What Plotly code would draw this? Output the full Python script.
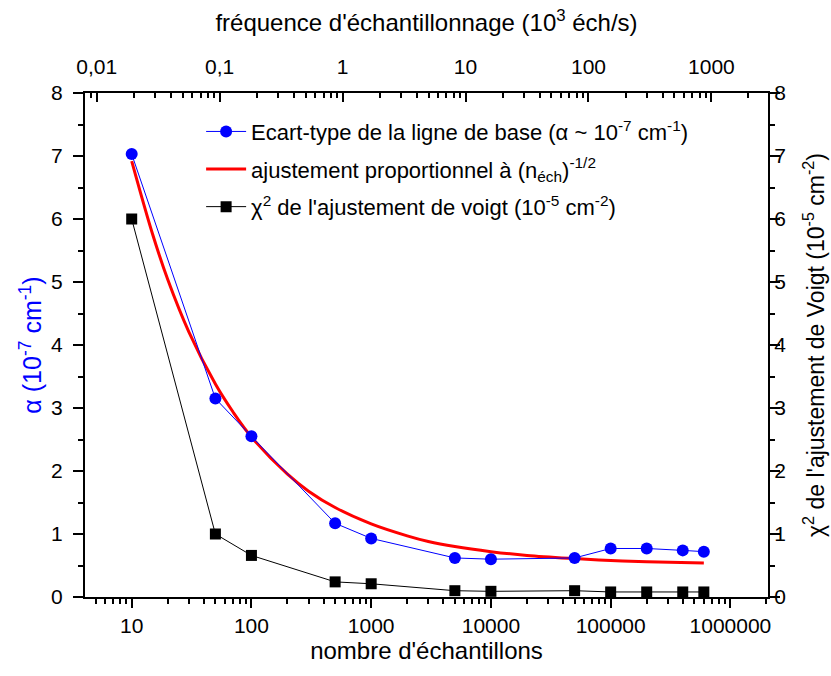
import plotly.graph_objects as go

# --- data ---
n_samples = [10, 50, 100, 500, 1000, 5000, 10000, 50000, 100000, 200000, 400000, 600000]
alpha_std = [7.03, 3.15, 2.55, 1.17, 0.93, 0.62, 0.60, 0.62, 0.77, 0.77, 0.74, 0.72]
chi2_voigt = [6.00, 1.00, 0.66, 0.24, 0.21, 0.10, 0.09, 0.10, 0.08, 0.08, 0.08, 0.08]

fit_n = [10, 15, 20, 30, 50, 70, 100, 200, 300, 500, 1000, 2000, 3000, 5000, 10000,
         20000, 50000, 100000, 200000, 600000]
fit_alpha = [6.92, 5.75, 5.04, 4.21, 3.38, 2.94, 2.54, 1.95, 1.68, 1.42, 1.16, 0.97,
             0.88, 0.80, 0.72, 0.66, 0.61, 0.58, 0.56, 0.54]

bottom_ticks = [10, 100, 1000, 10000, 100000, 1000000]
bottom_labels = ["10", "100", "1000", "10000", "100000", "1000000"]
top_ticks = [0.01, 0.1, 1, 10, 100, 1000]
top_labels = ["0,01", "0,1", "1", "10", "100", "1000"]
y_ticks = [0, 1, 2, 3, 4, 5, 6, 7, 8]

# minor tick positions (2..9 in each decade)
bottom_minor = [m * 10 ** k for k in range(0, 7) for m in range(2, 10)]
top_minor = [m * 10.0 ** k for k in range(-3, 4) for m in range(2, 10)]

FONT = "Liberation Sans, Arial, sans-serif"

fig = go.Figure()

fig.add_trace(go.Scatter(
    x=fit_n, y=fit_alpha, mode="lines", line=dict(color="#ff0000", width=3, shape="spline"),
    name="ajustement proportionnel à (n<sub>éch</sub>)<sup>-1/2</sup>",
    legendrank=2, legendgroup="b", xaxis="x", yaxis="y"))

fig.add_trace(go.Scatter(
    x=n_samples, y=alpha_std, mode="lines+markers",
    line=dict(color="#0000ff", width=1),
    marker=dict(color="#0000ff", size=12, symbol="circle"),
    name="Ecart-type de la ligne de base (α ~ 10<sup>-7</sup> cm<sup>-1</sup>)",
    legendrank=1, legendgroup="a", xaxis="x", yaxis="y"))

fig.add_trace(go.Scatter(
    x=n_samples, y=chi2_voigt, mode="lines+markers",
    line=dict(color="#000000", width=1),
    marker=dict(color="#000000", size=11, symbol="square"),
    name="χ<sup>2</sup> de l'ajustement de voigt (10<sup>-5</sup> cm<sup>-2</sup>)",
    legendrank=3, legendgroup="c", xaxis="x", yaxis="y2"))

# invisible trace to anchor the top axis
fig.add_trace(go.Scatter(x=[1], y=[None], xaxis="x2", yaxis="y", showlegend=False,
                         hoverinfo="skip", mode="markers"))

tickfont = dict(family=FONT, size=21, color="black")
titlefont = dict(family=FONT, size=24, color="black")

def minor_cfg(direction, vals=None, dtick=None):
    d = dict(ticks=direction, ticklen=5, tickwidth=1.5, tickcolor="black", showgrid=False)
    if vals is not None:
        d.update(tickmode="array", tickvals=vals)
    if dtick is not None:
        d.update(dtick=dtick)
    return d

fig.update_layout(
    width=831, height=676,
    margin=dict(l=85, r=63, t=93, b=79),
    paper_bgcolor="white", plot_bgcolor="white",
    font=dict(family=FONT, color="black"),
    showlegend=True,
    legend=dict(x=0.17, y=0.965, xanchor="left", yanchor="top",
                bgcolor="rgba(0,0,0,0)", font=dict(family=FONT, size=22, color="black"),
                traceorder="grouped", itemwidth=40, tracegroupgap=6),
    xaxis=dict(type="log", range=[0.610, 6.314], tickmode="array",
               tickvals=bottom_ticks, ticktext=bottom_labels,
               ticks="outside", ticklen=9, tickwidth=1.5, tickcolor="black",
               showline=True, linecolor="black", linewidth=2, showgrid=False, zeroline=False,
               tickfont=tickfont, ticklabelstandoff=0,
               minor=minor_cfg("outside", vals=bottom_minor),
               title=dict(text="nombre d'échantillons", font=titlefont, standoff=5)),
    xaxis2=dict(type="log", range=[-2.095, 3.46], overlaying="x", side="top", anchor="y",
                tickmode="array", tickvals=top_ticks, ticktext=top_labels,
                ticks="inside", ticklen=9, tickwidth=1.5, tickcolor="black",
                showline=True, linecolor="black", linewidth=2, showgrid=False, zeroline=False,
                tickfont=tickfont, ticklabelstandoff=9,
                minor=minor_cfg("inside", vals=top_minor),
                title=dict(text="fréquence d'échantillonnage (10<sup>3</sup> éch/s)",
                           font=titlefont, standoff=16)),
    yaxis=dict(range=[0, 8], tickmode="array", tickvals=y_ticks,
               ticks="outside", ticklen=10, tickwidth=1.5, tickcolor="black",
               showline=True, linecolor="black", linewidth=2, showgrid=False, zeroline=False,
               tickfont=tickfont, ticklabelstandoff=6,
               minor=minor_cfg("outside", dtick=0.5),
               title=dict(text="α (10<sup>-7</sup> cm<sup>-1</sup>)",
                          font=dict(family=FONT, size=25, color="#0000ff"), standoff=2)),
    yaxis2=dict(range=[0, 8], overlaying="y", side="right", anchor="x",
                tickmode="array", tickvals=y_ticks,
                ticks="outside", ticklen=10, tickwidth=1.5, tickcolor="black",
                showline=True, linecolor="black", linewidth=2, showgrid=False, zeroline=False,
                tickfont=tickfont, ticklabelstandoff=-10,
                minor=minor_cfg("outside", dtick=0.5)),
    annotations=[dict(
        text="χ<sup>2</sup> de l'ajustement de Voigt (10<sup>-5</sup> cm<sup>-2</sup>)",
        xref="paper", yref="paper", x=1.0, xshift=46, y=0.5, xanchor="center", yanchor="middle",
        textangle=-90, showarrow=False, font=dict(family=FONT, size=23, color="black"))],
)

# remove the default 8px page margin so the figure sits at the window's corner
fig.write_html("out.html", config={"displayModeBar": False},
               post_script="document.body.style.margin='0px';")
